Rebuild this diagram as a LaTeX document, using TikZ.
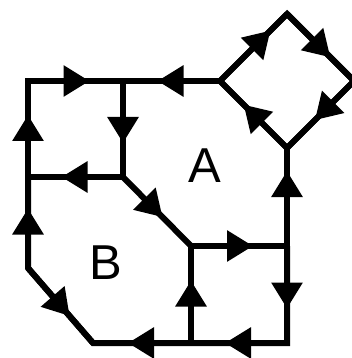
\documentclass[tikz,border=0pt]{standalone}
\usepackage{fontspec}
\setmainfont{Liberation Sans}
\usetikzlibrary{arrows.meta,decorations.markings}

\tikzset{
  wire/.style={line width=6pt, black},
  flow/.style={wire, postaction={decorate},
    decoration={markings, mark=at position 0.5 with
      {\arrow[xshift=#1]{Triangle[length=26pt,width=30pt]}}}},
  flow/.default=14pt,
  face/.style={font=\fontsize{49}{49}\selectfont, inner sep=0pt}
}

\begin{document}
\begin{tikzpicture}[x=1pt, y=-1pt]
  \useasboundingbox (0,0) rectangle (351,358);

  % Knoten des Netzes
  \coordinate (tl) at (28,81);
  \coordinate (tm) at (123,81);
  \coordinate (dl) at (220,81);
  \coordinate (dt) at (287,14);
  \coordinate (dr) at (354,81);
  \coordinate (db) at (287,148);
  \coordinate (ml) at (28,177);
  \coordinate (mm) at (123,177);
  \coordinate (c)  at (191,246);
  \coordinate (r)  at (287,246);
  \coordinate (bl) at (28,268);
  \coordinate (bb) at (93,343);
  \coordinate (bm) at (191,343);
  \coordinate (br) at (287,343);

  % Ecken durchgehend
  \draw[wire] (ml) -- (tl) -- (tm);
  \draw[wire] (ml) -- (bl) -- (bb) -- (bm) -- (br) -- (r);
  \draw[wire] (dl) -- (dt) -- (dr) -- (db) -- cycle;

  % Kanten mit Richtung
  \draw[flow] (tl) -- (tm);
  \draw[flow] (dl) -- (tm);
  \draw[flow] (tm) -- (mm);
  \draw[flow] (mm) -- (ml);
  \draw[flow] (ml) -- (tl);
  \draw[flow] (bl) -- (ml);
  \draw[flow] (bl) -- (bb);
  \draw[flow] (bm) -- (bb);
  \draw[flow] (br) -- (bm);
  \draw[flow] (bm) -- (c);
  \draw[flow] (c) -- (r);
  \draw[flow] (r) -- (br);
  \draw[flow=26pt] (r) -- (db);
  \draw[flow=8pt] (mm) -- (c);
  \draw[flow=24pt] (dl) -- (dt);
  \draw[flow] (dt) -- (dr);
  \draw[flow=8pt] (dr) -- (db);
  \draw[flow] (db) -- (dl);

  % Maschen
  \node[face] (A) at (205,165.5) {A};
  \node[face] (B) at (106,262.5) {B};
\end{tikzpicture}
\end{document}
